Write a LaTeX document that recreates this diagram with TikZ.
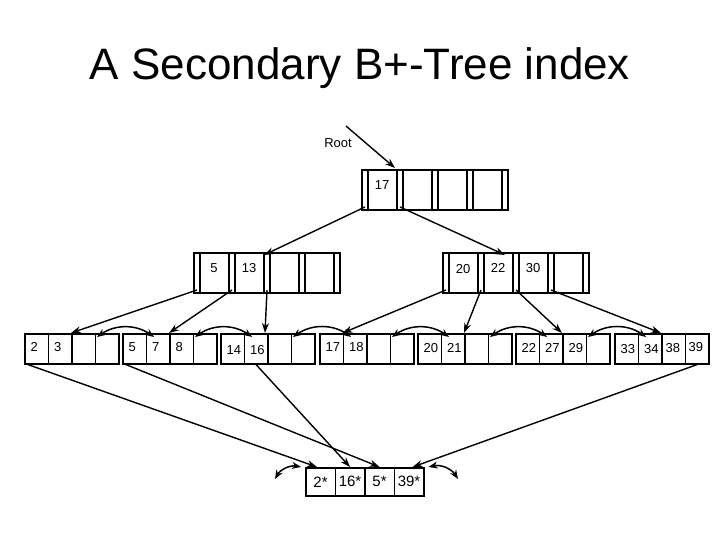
\documentclass[tikz,border=0pt]{standalone}
\usepackage{fontspec}
\setmainfont{Liberation Sans}
\usetikzlibrary{arrows.meta}
\begin{document}
\begin{tikzpicture}[x=1pt,y=-1pt,
  box/.style={draw,line width=1.6pt},
  cell/.style={draw,line width=1.6pt,minimum width=23.5pt,minimum height=30pt,inner sep=0pt,anchor=north west},
  dcell/.style={draw,line width=1.6pt,minimum width=29.5pt,minimum height=28pt,inner sep=0pt,anchor=north west,font=\fontsize{15}{15}\selectfont},
  key/.style={font=\fontsize{13}{13}\selectfont},
  ptr/.style={line width=1.4pt,-{Stealth[length=10pt,width=7pt]}},
  sib/.style={line width=1.5pt,{Stealth[length=9pt,width=7pt]}-{Stealth[length=9pt,width=7pt]}}]
\useasboundingbox (0,0) rectangle (720,540);
\node[font=\fontsize{44}{44}\selectfont] (title) at (360,68) {A Secondary B+-Tree index};
% internal node macro
\newcommand{\inode}[7]{%
  \draw[box] (#2,#3) rectangle ++(146,40);
  \foreach \o in {6,35,41,70,76,105,111,140}{\draw[box] (#2+\o,#3) -- ++(0,40);}
  \foreach \i in {0,1,2,3,4}{\coordinate (#1-p\i) at (#2+3+35*\i,#3+37);}
  \node[key] (#1-k1) at (#2+20,#3+15) {#4};
  \node[key] (#1-k2) at (#2+55,#3+15) {#5};
  \node[key] (#1-k3) at (#2+90,#3+15) {#6};
  \node[key] (#1-k4) at (#2+125,#3+15) {#7};}
\inode{root}{362}{170}{17}{}{}{}
\inode{L}{194}{253}{5}{13}{}{}
\inode{R}{443}{253}{}{22}{30}{}
\node[key] (R-k1b) at (463,269) {20};
% leaves
\newcommand{\leaf}[6]{%
  \foreach \j in {0,1,2,3}{\node[cell] (#1-\j) at (#2+23.5*\j,333) {};}
  \node[key,anchor=west] at (#2+3,#6) {#3};
  \node[key,anchor=west] at (#2+26.5,#6) {#4};
  \node[key,anchor=west] at (#2+50,#6) {#5};}
\leaf{a}{24}{2}{3}{}{347}
\leaf{b}{122}{5}{7}{8}{347}
\leaf{c}{220}{14}{16}{}{350}
\leaf{d}{319}{17}{18}{}{347}
\leaf{e}{417}{20}{21}{}{348}
\leaf{f}{515}{22}{27}{29}{348}
\leaf{g}{614}{33}{34}{}{349}
\node[key,anchor=west] at (614+48,348) {38};
\node[key,anchor=west] at (614+71,347) {39};
% data page
\foreach \j/\t in {0/2*,1/16*,2/5*,3/39*}{\node[dcell] (dp\j) at (305+29.5*\j,467) {\t};}
% root label
\node[key] (rootlbl) at (338,143) {Root};
\coordinate (rs) at (346,126);
\draw[ptr] (rs) -- (395,168);
% tree pointers
\draw[ptr] (root-p0) -- (264,255);
\draw[ptr] (root-p1) -- (505,255);
\draw[ptr] (L-p0) -- (a-2.north west);
\draw[ptr] (L-p1) -- (b-2.north west);
\draw[ptr] (L-p2) -- (265,333);
\draw[ptr] (R-p0) -- (d-1.north west);
\draw[ptr] (R-p1) -- (e-2.north west);
\draw[ptr] (R-p2) -- (f-2.north west);
\draw[ptr] (R-p3) -- (g-2.north west);
% sibling links
\foreach \l/\r in {a/b,b/c,c/d,d/e,e/f,f/g}{\draw[sib] ([xshift=-10pt,yshift=-4pt]\l-3.north) to[bend left=35] ([xshift=-4pt,yshift=-4pt]\r-1.north);}
% leaf to data entries
\draw[ptr] (a-0.south west) ++(4,0) -- ([xshift=12pt]dp0.north west);
\draw[ptr] (b-0.south west) ++(4,0) -- (dp2.north);
\draw[ptr] (c-1.south) -- (dp1.north);
\draw[ptr] (g-3.south) -- ([xshift=-12pt]dp3.north east);
\coordinate (dl) at (275,479);
\coordinate (dr) at (458,479);
\draw[sib] (dl) to[bend left=35] ([xshift=-4pt]dp0.north west);
\draw[sib] ([xshift=4pt]dp3.north east) to[bend left=35] (dr);
\end{tikzpicture}
\end{document}
